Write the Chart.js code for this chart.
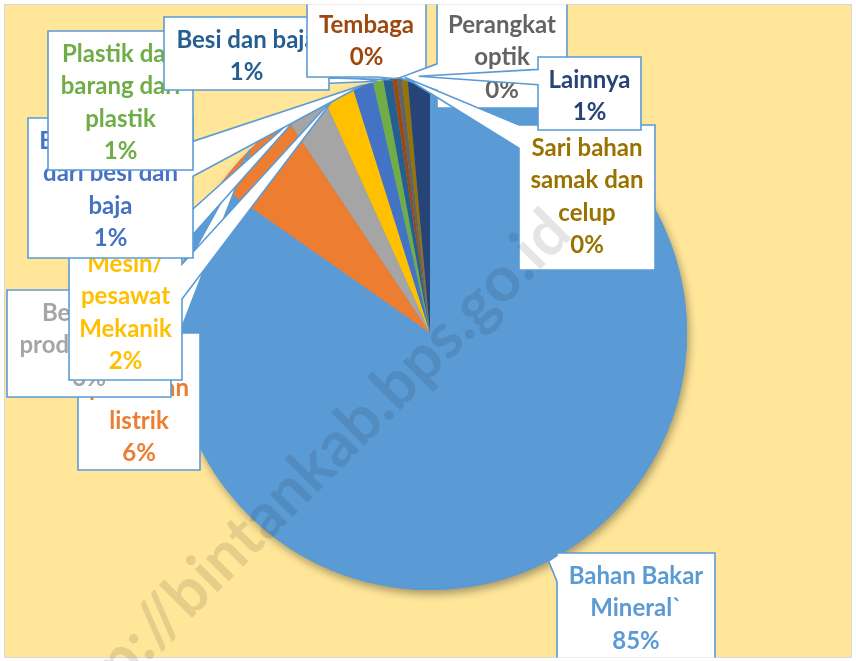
<!DOCTYPE html>
<html><head><meta charset="utf-8">
<script src="https://cdn.jsdelivr.net/npm/chart.js@4/dist/chart.umd.min.js"></script>
<style>html,body{margin:0;padding:0;background:#fff;}canvas{display:block;}</style>
</head><body>
<canvas id="c" width="856" height="661"></canvas>
<script>
// ---- data ----
const categories = [
  "Bahan Bakar Mineral`", "Mesin/ peralatan listrik", "Berbagai produk kimia",
  "Mesin/ pesawat Mekanik", "Benda-benda dari besi dan baja", "Plastik dan barang dari plastik",
  "Besi dan baja", "Tembaga", "Perangkat optik", "Sari bahan samak dan celup", "Lainnya"
];
const shares = [84.6, 5.9, 2.6, 1.9, 1.3, 0.65, 0.55, 0.3, 0.3, 0.35, 1.4];
const sliceColors = ["#5B9BD5", "#ED7D31", "#A5A5A5", "#FFC000", "#4472C4", "#70AD47",
  "#255E91", "#9E480E", "#636363", "#997300", "#264478"];
// wrapped label lines (category text as shown in the callouts)
const labelLines = [
  ["Bahan Bakar", "Mineral`"], ["Mesin/", "peralatan", "listrik"], ["Berbagai", "produk kimia"],
  ["Mesin/", "pesawat", "Mekanik"], ["Benda-benda", "dari besi dan", "baja"],
  ["Plastik dan", "barang dari", "plastik"], ["Besi dan baja"], ["Tembaga"],
  ["Perangkat", "optik"], ["Sari bahan", "samak dan", "celup"], ["Lainnya"]
];
const watermarkText = "http://bintankab.bps.go.id";

// ---- layout (callout boxes: left, top, right, bottom) ----
const boxes = [
  [557, 553, 715, 683], [78, 333, 200, 470], [7, 290, 171, 397], [69, 241, 182, 380],
  [28, 118, 193, 258], [48, 31, 193, 170], [164, 17, 329, 90], [307, 2, 426, 77],
  [437, 2, 567, 108], [519, 125, 655, 270], [538, 57, 641, 130]
];
// optional pointer base span (fractions along the side) where it differs from the default
const pointerSpan = [[0.02, 0.22], null, null, null, null, null, null, null, null, [0.0, 0.16], [0.17, 0.38]];
const FRAME = {l: 4.5, t: 4.5, r: 851.5, b: 657.5};
const FONT = "bold 24px Lato";
const LINE_H = 32.4;

function calloutPath(ctx, l, t, r, b, tx, ty, span) {
  const w = r - l, h = b - t, hc = l + w / 2, vc = t + h / 2;
  const dx = tx - hc, dy = ty - vc;
  const dq = dx * h / w;
  const dz = Math.abs(dy) - Math.abs(dq);
  let x1 = l + w * (dx > 0 ? 7 : 2) / 12, x2 = l + w * (dx > 0 ? 10 : 5) / 12;
  let y1 = t + h * (dy > 0 ? 7 : 2) / 12, y2 = t + h * (dy > 0 ? 10 : 5) / 12;
  if (span) {
    x1 = l + w * span[0]; x2 = l + w * span[1];
    y1 = t + h * span[0]; y2 = t + h * span[1];
  }
  const inside = tx >= l && tx <= r && ty >= t && ty <= b;
  ctx.beginPath();
  ctx.moveTo(l, t);
  if (!inside && dz > 0 && dy < 0) { ctx.lineTo(x1, t); ctx.lineTo(tx, ty); ctx.lineTo(x2, t); }
  ctx.lineTo(r, t);
  if (!inside && dz <= 0 && dx > 0) { ctx.lineTo(r, y1); ctx.lineTo(tx, ty); ctx.lineTo(r, y2); }
  ctx.lineTo(r, b);
  if (!inside && dz > 0 && dy > 0) { ctx.lineTo(x2, b); ctx.lineTo(tx, ty); ctx.lineTo(x1, b); }
  ctx.lineTo(l, b);
  if (!inside && dz <= 0 && dx < 0) { ctx.lineTo(l, y2); ctx.lineTo(tx, ty); ctx.lineTo(l, y1); }
  ctx.closePath();
}

const bgPlugin = {
  id: "bg",
  beforeDraw(chart) {
    const ctx = chart.ctx;
    ctx.save();
    ctx.fillStyle = "#ffffff";
    ctx.fillRect(0, 0, chart.width, chart.height);
    ctx.fillStyle = "#FFE699";
    ctx.fillRect(FRAME.l, FRAME.t, FRAME.r - FRAME.l, FRAME.b - FRAME.t);
    ctx.strokeStyle = "#D9D9D9";
    ctx.lineWidth = 1;
    ctx.strokeRect(FRAME.l, FRAME.t, FRAME.r - FRAME.l, FRAME.b - FRAME.t);
    ctx.restore();
  },
  beforeDatasetsDraw(chart) {
    const meta = chart.getDatasetMeta(0);
    const a = meta.data[0];
    if (!a) return;
    const ctx = chart.ctx;
    ctx.save();
    ctx.shadowColor = "rgba(0,0,0,0.35)";
    ctx.shadowBlur = 9;
    ctx.shadowOffsetX = 2;
    ctx.shadowOffsetY = 4;
    ctx.fillStyle = sliceColors[0];
    ctx.beginPath();
    ctx.arc(a.x, a.y, a.outerRadius, 0, Math.PI * 2);
    ctx.fill();
    ctx.restore();
  }
};

const calloutPlugin = {
  id: "callouts",
  afterDatasetsDraw(chart) {
    const ctx = chart.ctx;
    const meta = chart.getDatasetMeta(0);
    const total = shares.reduce((s, v) => s + v, 0);
    ctx.save();
    ctx.beginPath();
    ctx.rect(FRAME.l, FRAME.t, FRAME.r - FRAME.l, FRAME.b - FRAME.t);
    ctx.clip();
    meta.data.forEach((arc, i) => {
      const mid = (arc.startAngle + arc.endAngle) / 2;
      const tx = arc.x + Math.cos(mid) * arc.outerRadius;
      const ty = arc.y + Math.sin(mid) * arc.outerRadius;
      const [l, t, r, b] = boxes[i];
      calloutPath(ctx, l, t, r, b, tx, ty, pointerSpan[i]);
      ctx.fillStyle = "#ffffff";
      ctx.fill();
      ctx.strokeStyle = "#5B9BD5";
      ctx.lineWidth = 1.6;
      ctx.lineJoin = "miter";
      ctx.stroke();
      const lines = labelLines[i].concat([Math.round(shares[i] / total * 100) + "%"]);
      ctx.fillStyle = sliceColors[i];
      ctx.font = FONT;
      ctx.textAlign = "center";
      ctx.textBaseline = "middle";
      const cx = (l + r) / 2;
      lines.forEach((s, k) => {
        ctx.fillText(s, cx, t + 23 + k * LINE_H);
      });
    });
    ctx.restore();
  },
  afterDraw(chart) {
    const ctx = chart.ctx;
    ctx.save();
    ctx.translate(574, 236);
    ctx.rotate(-45 * Math.PI / 180);
    ctx.font = "bold 63px Lato";
    ctx.textAlign = "right";
    ctx.textBaseline = "alphabetic";
    ctx.fillStyle = "rgba(0,0,0,0.1)";
    ctx.fillText(watermarkText, 0, 0);
    ctx.restore();
  }
};

new Chart(document.getElementById("c"), {
  type: "pie",
  data: {
    labels: categories,
    datasets: [{
      data: shares,
      backgroundColor: sliceColors,
      borderWidth: 0,
      hoverOffset: 0
    }]
  },
  options: {
    responsive: false,
    animation: false,
    devicePixelRatio: 1,
    layout: { padding: { left: 173, right: 169, top: 76, bottom: 71 } },
    plugins: { legend: { display: false }, tooltip: { enabled: false } },
    events: []
  },
  plugins: [bgPlugin, calloutPlugin]
});
</script>
</body></html>
